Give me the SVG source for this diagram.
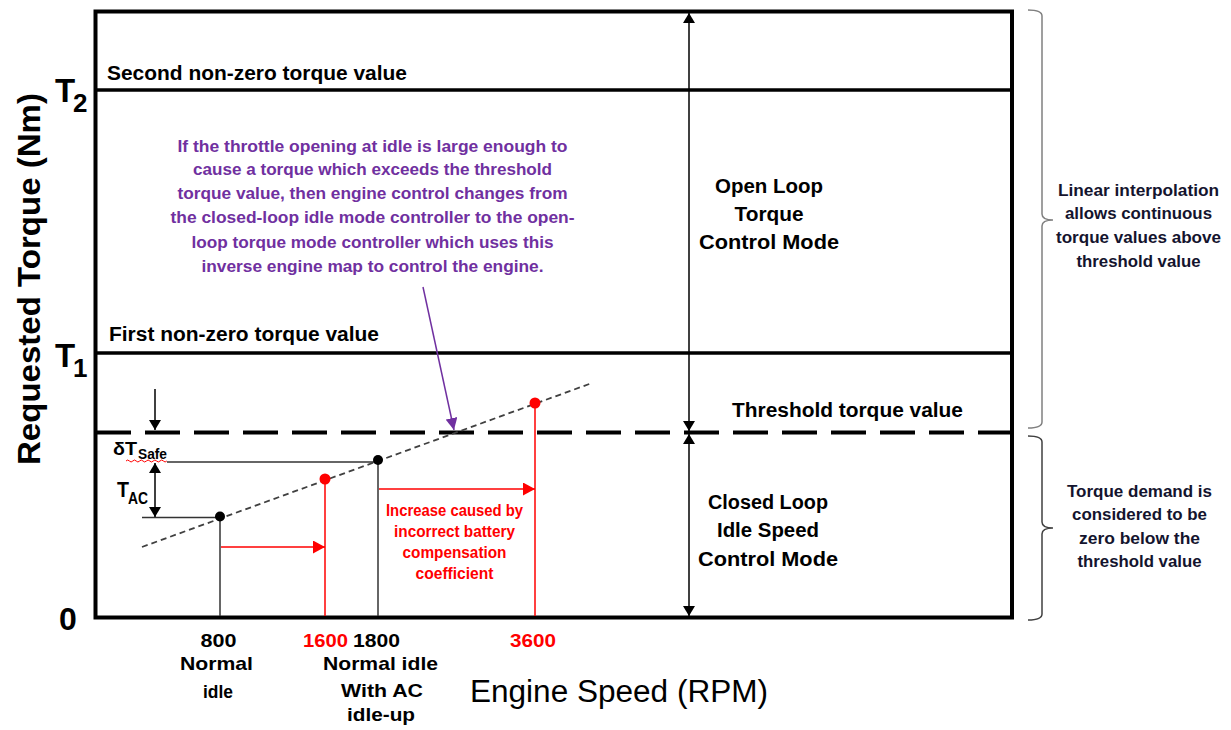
<svg xmlns="http://www.w3.org/2000/svg" width="1231" height="730" viewBox="0 0 1231 730">
<style>
text{font-family:"Liberation Sans",Arial,sans-serif;font-weight:bold;fill:#000}
.mid{text-anchor:middle}
.purple{fill:#7030A0;font-size:16px;text-anchor:middle}
.red{fill:#FF0000}
.rednote{fill:#FF0000;font-size:16px;text-anchor:middle}
.mode{font-size:20px;text-anchor:middle}
.note{font-size:16px;text-anchor:middle;fill:#14142e}
.tick{font-size:19px;text-anchor:middle}
.frame{fill:none;stroke:#000;stroke-width:4}
.band{stroke:#000;stroke-width:3.5}
.thin{stroke:#333;stroke-width:1.5;fill:none}
.redl{stroke:#FF0000;stroke-width:1.5;fill:none}
</style>
<defs>
<marker id="ab" viewBox="0 0 10 12" refX="10" refY="6" markerWidth="10" markerHeight="12" markerUnits="userSpaceOnUse" orient="auto-start-reverse"><path d="M0,0 L10,6 L0,12 z" fill="#000"/></marker>
<marker id="ap" viewBox="0 0 12 12" refX="12" refY="6" markerWidth="12" markerHeight="12" markerUnits="userSpaceOnUse" orient="auto"><path d="M0,0 L12,6 L0,12 z" fill="#7030A0"/></marker>
<marker id="ar" viewBox="0 0 12 13" refX="12" refY="6.5" markerWidth="12" markerHeight="13" markerUnits="userSpaceOnUse" orient="auto"><path d="M0,0 L12,6.5 L0,13 z" fill="#FF0000"/></marker>
</defs>
<rect width="1231" height="730" fill="#fff"/>

<g id="frame">
<rect class="frame" x="95.5" y="11.5" width="916.5" height="606"/>
<line class="band" x1="95.5" y1="90" x2="1012" y2="90"/>
<line class="band" x1="95.5" y1="353" x2="1012" y2="353"/>
<line id="threshold-line" x1="96" y1="432.5" x2="1011" y2="432.5" stroke="#000" stroke-width="4" stroke-dasharray="35 14"/>
</g>

<g id="braces" fill="none">
<path d="M1028,10 Q1042,10 1042,16 V214 Q1042,220 1053,220 Q1042,220 1042,226 V422 Q1042,428 1028,428" stroke="#808080" stroke-width="1.5"/>
<path d="M1028,436 Q1042,436 1042,442 V522 Q1042,528 1053,528 Q1042,528 1042,534 V614 Q1042,620 1028,620" stroke="#404040" stroke-width="1.5"/>
</g>

<g id="axis-labels">
<text x="55" y="102" font-size="33">T</text><text x="73" y="112" font-size="26">2</text>
<text x="55" y="367" font-size="33">T</text><text x="73" y="377" font-size="26">1</text>
<text x="68" y="630" font-size="32" class="mid">0</text>
<text transform="translate(40,279) rotate(-90)" font-size="32" class="mid" textLength="372" lengthAdjust="spacingAndGlyphs">Requested Torque (Nm)</text>
<text x="470" y="702" font-size="31" style="font-weight:normal" textLength="298" lengthAdjust="spacingAndGlyphs">Engine Speed (RPM)</text>
</g>

<g id="band-labels">
<text x="107" y="80" font-size="20" textLength="300" lengthAdjust="spacingAndGlyphs">Second non-zero torque value</text>
<text x="109" y="341" font-size="20" textLength="270" lengthAdjust="spacingAndGlyphs">First non-zero torque value</text>
<text x="732" y="417" font-size="20" textLength="231" lengthAdjust="spacingAndGlyphs">Threshold torque value</text>
</g>

<g id="open-loop-label">
<text class="mode" x="769" y="193" textLength="108" lengthAdjust="spacingAndGlyphs">Open Loop</text>
<text class="mode" x="769" y="221" textLength="69" lengthAdjust="spacingAndGlyphs">Torque</text>
<text class="mode" x="769" y="249" textLength="140" lengthAdjust="spacingAndGlyphs">Control Mode</text>
</g>

<g id="closed-loop-label">
<text class="mode" x="768" y="509" textLength="120" lengthAdjust="spacingAndGlyphs">Closed Loop</text>
<text class="mode" x="768" y="537" textLength="102" lengthAdjust="spacingAndGlyphs">Idle Speed</text>
<text class="mode" x="768" y="566" textLength="140" lengthAdjust="spacingAndGlyphs">Control Mode</text>
</g>

<g id="purple-note">
<text class="purple" x="372.5" y="152" textLength="390" lengthAdjust="spacingAndGlyphs">If the throttle opening at idle is large enough to</text>
<text class="purple" x="372.5" y="175" textLength="359" lengthAdjust="spacingAndGlyphs">cause a torque which exceeds the threshold</text>
<text class="purple" x="372.5" y="199" textLength="390" lengthAdjust="spacingAndGlyphs">torque value, then engine control changes from</text>
<text class="purple" x="372.5" y="223" textLength="404" lengthAdjust="spacingAndGlyphs">the closed-loop idle mode controller to the open-</text>
<text class="purple" x="372.5" y="248" textLength="362" lengthAdjust="spacingAndGlyphs">loop torque mode controller which uses this</text>
<text class="purple" x="372.5" y="272" textLength="342" lengthAdjust="spacingAndGlyphs">inverse engine map to control the engine.</text>
</g>

<g id="red-note">
<text class="rednote" x="454.5" y="516" textLength="137" lengthAdjust="spacingAndGlyphs">Increase caused by</text>
<text class="rednote" x="454.5" y="537" textLength="121" lengthAdjust="spacingAndGlyphs">incorrect battery</text>
<text class="rednote" x="454.5" y="558" textLength="104" lengthAdjust="spacingAndGlyphs">compensation</text>
<text class="rednote" x="454.5" y="579" textLength="78" lengthAdjust="spacingAndGlyphs">coefficient</text>
</g>

<g id="right-notes">
<text class="note" x="1138.5" y="196" textLength="161" lengthAdjust="spacingAndGlyphs">Linear interpolation</text>
<text class="note" x="1138.5" y="219" textLength="147" lengthAdjust="spacingAndGlyphs">allows continuous</text>
<text class="note" x="1138.5" y="243" textLength="165" lengthAdjust="spacingAndGlyphs">torque values above</text>
<text class="note" x="1138.5" y="267" textLength="124" lengthAdjust="spacingAndGlyphs">threshold value</text>
<text class="note" x="1139.5" y="497" textLength="145" lengthAdjust="spacingAndGlyphs">Torque demand is</text>
<text class="note" x="1139.5" y="520" textLength="135" lengthAdjust="spacingAndGlyphs">considered to be</text>
<text class="note" x="1139.5" y="544" textLength="121" lengthAdjust="spacingAndGlyphs">zero below the</text>
<text class="note" x="1139.5" y="567" textLength="124" lengthAdjust="spacingAndGlyphs">threshold value</text>
</g>

<g id="tick-labels">
<text class="tick" x="218.5" y="647" textLength="36" lengthAdjust="spacingAndGlyphs">800</text>
<text class="tick" x="216.5" y="670" textLength="73" lengthAdjust="spacingAndGlyphs">Normal</text>
<text class="tick" x="218" y="698" textLength="30" lengthAdjust="spacingAndGlyphs">idle</text>
<text class="tick red" x="325.5" y="647" textLength="45" lengthAdjust="spacingAndGlyphs">1600</text>
<text class="tick" x="376.5" y="647" textLength="47" lengthAdjust="spacingAndGlyphs">1800</text>
<text class="tick" x="380.5" y="670" textLength="115" lengthAdjust="spacingAndGlyphs">Normal idle</text>
<text class="tick" x="382" y="697" textLength="82" lengthAdjust="spacingAndGlyphs">With AC</text>
<text class="tick" x="381" y="721" textLength="68" lengthAdjust="spacingAndGlyphs">idle-up</text>
<text class="tick red" x="533" y="647" textLength="46" lengthAdjust="spacingAndGlyphs">3600</text>
</g>

<g id="delta-labels">
<text x="113" y="455" font-size="19" textLength="24" lengthAdjust="spacingAndGlyphs">δT</text>
<text x="138" y="459" font-size="14" textLength="29" lengthAdjust="spacingAndGlyphs">Safe</text>
<path d="M126,461 q1.7,-2 3.4,0 t3.4,0 t3.4,0 t3.4,0 t3.4,0 t3.4,0 t3.4,0 t3.4,0 t3.4,0 t3.4,0 t3.4,0 t3.4,0" fill="none" stroke="#FF0000" stroke-width="1"/>
<text x="117" y="497" font-size="22" textLength="12" lengthAdjust="spacingAndGlyphs">T</text>
<text x="128" y="504" font-size="16" textLength="20" lengthAdjust="spacingAndGlyphs">AC</text>
</g>

<g id="map-line">
<line x1="142" y1="547" x2="592" y2="383" stroke="#404040" stroke-width="1.8" stroke-dasharray="6 4"/>
</g>

<g id="connectors">
<line class="thin" x1="220" y1="517" x2="220" y2="616"/>
<line class="thin" x1="378" y1="461" x2="378" y2="616"/>
<line class="thin" x1="142" y1="517.5" x2="220" y2="517.5"/>
<line class="thin" x1="167" y1="462" x2="378" y2="462"/>
<line class="redl" x1="325" y1="479" x2="325" y2="616"/>
<line class="redl" x1="535" y1="403" x2="535" y2="616"/>
<line class="redl" x1="221" y1="547" x2="325" y2="547" marker-end="url(#ar)"/>
<line class="redl" x1="379" y1="489" x2="535" y2="489" marker-end="url(#ar)"/>
<line stroke="#000" stroke-width="1.5" x1="689" y1="431" x2="689" y2="13" marker-start="url(#ab)" marker-end="url(#ab)"/>
<line stroke="#000" stroke-width="1.5" x1="689" y1="434" x2="689" y2="616" marker-start="url(#ab)" marker-end="url(#ab)"/>
<line stroke="#000" stroke-width="1.5" x1="155" y1="389" x2="155" y2="430" marker-end="url(#ab)"/>
<line stroke="#000" stroke-width="1.5" x1="155" y1="463" x2="155" y2="517" marker-start="url(#ab)" marker-end="url(#ab)"/>
<line stroke="#7030A0" stroke-width="1.5" x1="423" y1="287" x2="454" y2="430" marker-end="url(#ap)"/>
</g>

<g id="points">
<circle cx="220" cy="516.5" r="5" fill="#000"/>
<circle cx="378" cy="460" r="5" fill="#000"/>
<circle cx="325" cy="479" r="5.5" fill="#FF0000"/>
<circle cx="535" cy="403" r="5.5" fill="#FF0000"/>
</g>
</svg>
